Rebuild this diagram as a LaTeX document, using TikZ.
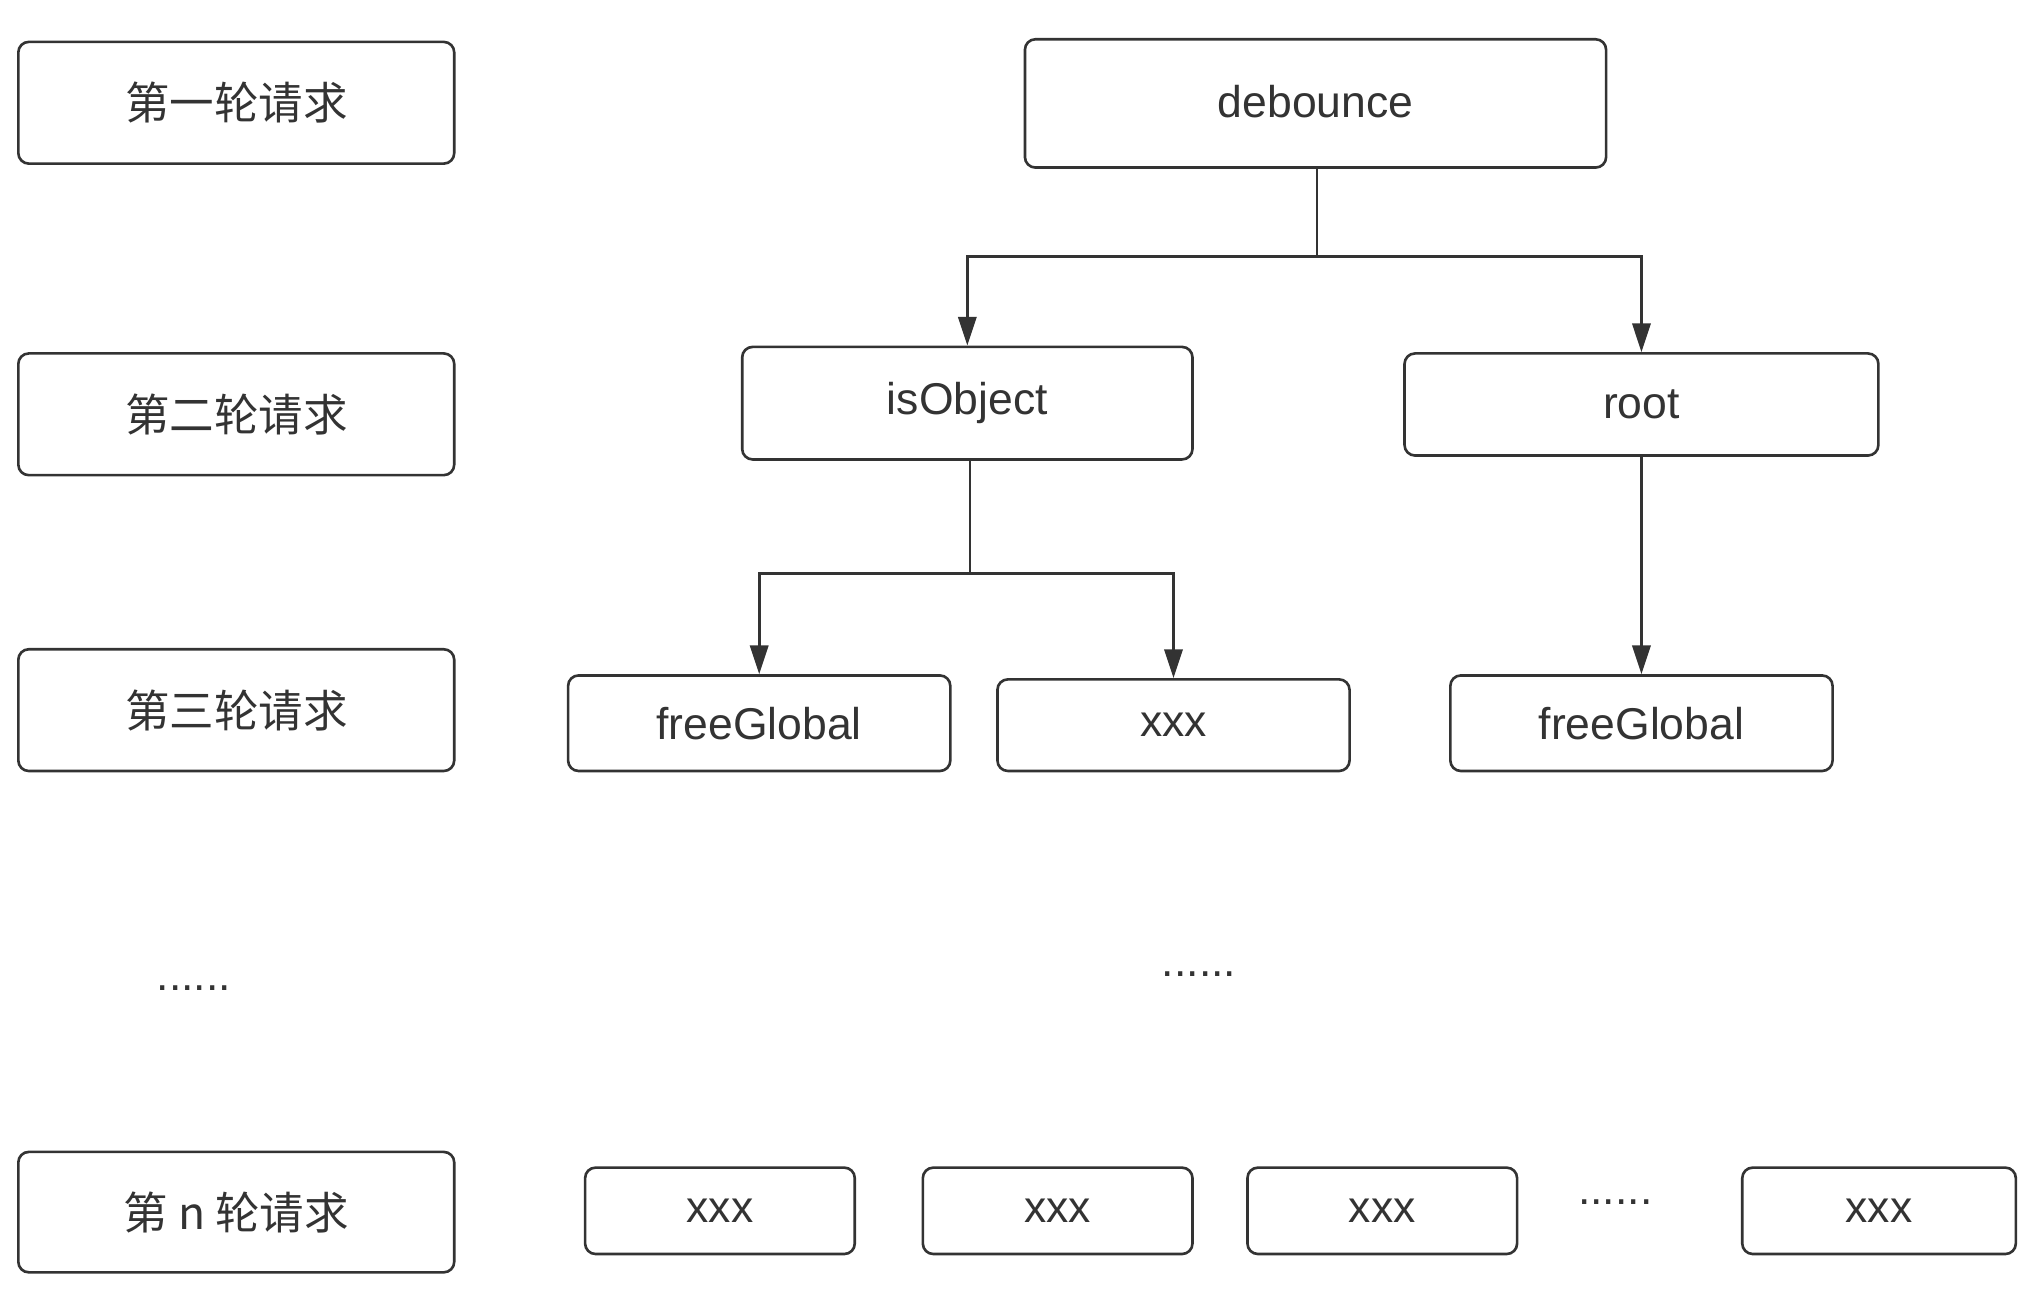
\documentclass[tikz,border=0pt]{standalone}
\usepackage{fontspec}
\setmainfont{Liberation Sans}
\newfontfamily\cjk{Noto Sans CJK SC}
\usetikzlibrary{arrows.meta}
\definecolor{ink}{HTML}{333333}
\begin{document}
\begin{tikzpicture}[x=1pt,y=-1pt,
  box/.style={draw=ink, line width=2pt, rounded corners=8pt, inner sep=0pt,
    text=ink, font=\fontsize{34}{40}\selectfont},
  cbox/.style={box, font=\cjk\fontsize{34}{40}\selectfont},
  conn/.style={draw=ink, line width=2pt},
  arr/.style={conn, -{Triangle[length=22pt,width=14pt]}},
  dots/.style={text=ink, font=\fontsize{34}{40}\selectfont, inner sep=0pt}]
\useasboundingbox (0,0) rectangle (1560,985.5);
% left column
\node[cbox, minimum width=333pt, minimum height=93pt] (l1) at (180.5,78.5) {第一轮请求};
\node[cbox, minimum width=333pt, minimum height=93pt] (l2) at (180.5,316.5) {第二轮请求};
\node[cbox, minimum width=333pt, minimum height=93pt] (l3) at (180.5,542.5) {第三轮请求};
\node[dots] (ld) at (148,755) {......};
\node[cbox, minimum width=333pt, minimum height=92pt] (ln) at (180.5,926) {第 n 轮请求};
% tree
\node[box, minimum width=444pt, minimum height=98pt] (deb) at (1005,79) {\raisebox{3pt}{debounce}};
\node[box, minimum width=344pt, minimum height=86pt] (iso) at (739,308) {isObject};
\node[box, minimum width=362pt, minimum height=78pt] (root) at (1254,309) {root};
\node[box, minimum width=292pt, minimum height=73pt] (fg1) at (580,552.5) {freeGlobal};
\node[box, minimum width=269pt, minimum height=70pt] (x1) at (896.5,554) {xxx};
\node[box, minimum width=292pt, minimum height=73pt] (fg2) at (1254,552.5) {freeGlobal};
\node[dots] (md) at (916,744) {......};
% bottom row
\node[box, minimum width=206pt, minimum height=66pt] (b1) at (550,925) {xxx};
\node[box, minimum width=206pt, minimum height=66pt] (b2) at (808,925) {xxx};
\node[box, minimum width=206pt, minimum height=66pt] (b3) at (1056,925) {xxx};
\node[dots] (bd) at (1234,918) {......};
\node[box, minimum width=209pt, minimum height=66pt] (b4) at (1435.5,925) {xxx};
% connectors
\coordinate (j1) at (1006,196);
\coordinate (j2) at (741,438);
\draw[arr] (deb.south -| j1) -- (j1) -- (j1 -| iso.north) -- (iso.north);
\draw[arr] (deb.south -| j1) -- (j1) -- (j1 -| root.north) -- (root.north);
\draw[arr] (iso.south -| j2) -- (j2) -- (j2 -| fg1.north) -- (fg1.north);
\draw[arr] (iso.south -| j2) -- (j2) -- (j2 -| x1.north) -- (x1.north);
\draw[arr] (root) -- (fg2);
\end{tikzpicture}
\end{document}
